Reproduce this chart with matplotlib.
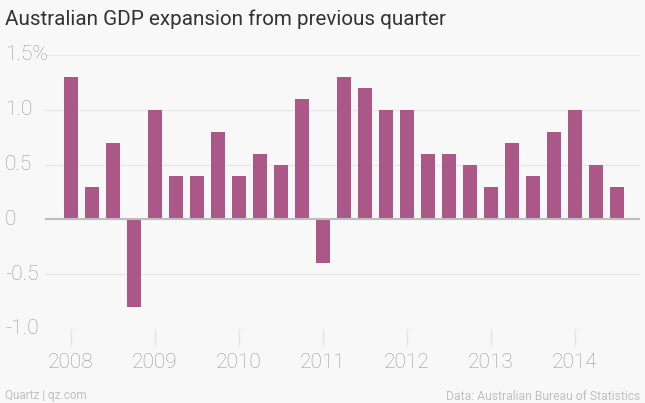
import matplotlib
matplotlib.use("Agg")
import matplotlib.pyplot as plt
from matplotlib.transforms import blended_transform_factory

plt.rcParams['font.family'] = ['Roboto', 'DejaVu Sans']

years = ["2008", "2009", "2010", "2011", "2012", "2013", "2014"]
quarters_per_year = 4
growth = [1.3, 0.3, 0.7, -0.8,
          1.0, 0.4, 0.4, 0.8,
          0.4, 0.6, 0.5, 1.1,
          -0.4, 1.3, 1.2, 1.0,
          1.0, 0.6, 0.6, 0.5,
          0.3, 0.7, 0.4, 0.8,
          1.0, 0.5, 0.3]
ytick_vals = [1.5, 1.0, 0.5, 0, -0.5, -1.0]
ytick_labels = ["1.5%", "1.0", "0.5", "0", "-0.5", "-1.0"]

W, H = 645, 403
bg = "#f8f8f8"
fig = plt.figure(figsize=(W / 100, H / 100), dpi=100, facecolor=bg)
ax = fig.add_axes([45 / W, 1 - 329 / H, (640 - 45) / W, (329 - 55) / H])
ax.set_facecolor(bg)

x = list(range(len(growth)))
for v in ytick_vals:
    if v != 0:
        ax.axhline(v, color="#e9e9e9", lw=1, zorder=0)
ax.bar(x, growth, width=0.67, color="#ab5787", zorder=2)
ax.axhline(0, color="#bdbdbd", lw=1.5, zorder=3)

ax.set_xlim(-1.24, 27.1)
ax.set_ylim(-1.0, 1.5)
for s in ax.spines.values():
    s.set_visible(False)
ax.set_yticks([])
ax.set_xticks([i * quarters_per_year for i in range(len(years))])
ax.set_xticklabels(years)
ax.tick_params(axis='x', length=11.5, width=1, color="#e3e3e3", pad=6,
               labelsize=15, labelcolor="#999999")
for t in ax.get_xticklabels():
    t.set_fontweight('light')

tr = blended_transform_factory(fig.transFigure, ax.transData)
for v, lab in zip(ytick_vals, ytick_labels):
    ax.text(5 / W, v, lab, transform=tr, ha='left', va='center',
            fontsize=15, color="#999999", fontweight='light')

fig.text(5 / W, 1 - 19 / H, "Australian GDP expansion from previous quarter",
         ha='left', va='center', fontsize=14.9, color="#333333")
fig.text(5 / W, 1 - 396 / H, "Quartz | qz.com", ha='left', va='center',
         fontsize=8.5, color="#c0c0c0")
fig.text(640 / W, 1 - 396 / H, "Data: Australian Bureau of Statistics",
         ha='right', va='center', fontsize=8.7, color="#c0c0c0")

fig.savefig("out.png", dpi=100, facecolor=bg)
